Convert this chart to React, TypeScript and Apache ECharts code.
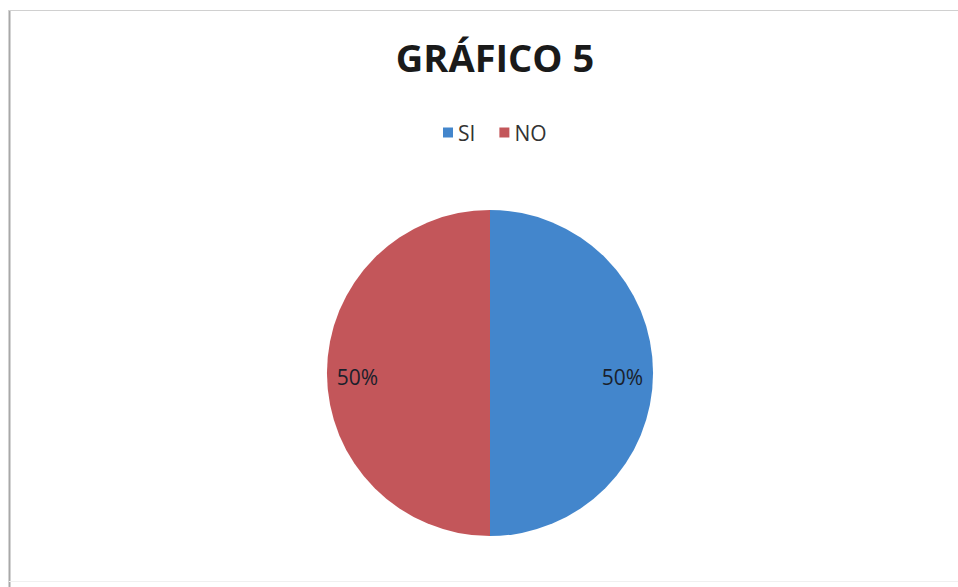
import React, { useEffect, useRef } from "react";
import * as echarts from "echarts";

const categories = ["SI", "NO"];
const values = [50, 50];
const colors = ["#4386cc", "#c3565a"];
const labelOffsets: [number, number][] = [[48, 4], [-48, 4]];

export default function App() {
  const ref = useRef<HTMLDivElement>(null);
  useEffect(() => {
    if (!ref.current) return;
    const chart = echarts.init(ref.current, undefined, { renderer: "svg" });
    const total = values.reduce((a, b) => a + b, 0);
    chart.setOption({
      animation: false,
      backgroundColor: "#ffffff",
      title: {
        text: "GRÁFICO 5",
        left: 490,
        textAlign: "center",
        top: 33,
        textStyle: {
          fontFamily: "Open Sans",
          fontWeight: "bold",
          fontSize: 38,
          color: "#1a1a1a",
        },
      },
      legend: {
        data: categories,
        top: 117,
        left: 438,
        icon: "rect",
        itemWidth: 10,
        itemHeight: 10,
        itemGap: 24,
        textStyle: { fontFamily: "Open Sans", fontSize: 21, color: "#333333" },
      },
      graphic: [
        { type: "line", shape: { x1: 9.5, y1: 10, x2: 9.5, y2: 587 }, style: { stroke: "#a8a8a8", lineWidth: 2 } },
        { type: "line", shape: { x1: 9, y1: 10.5, x2: 958, y2: 10.5 }, style: { stroke: "#d0d0d0", lineWidth: 1 } },
        { type: "line", shape: { x1: 9, y1: 581.5, x2: 958, y2: 581.5 }, style: { stroke: "#f0f0f0", lineWidth: 1 } },
      ],
      series: [
        {
          type: "pie",
          center: [490, 373],
          radius: 163,
          startAngle: 90,
          clockwise: true,
          silent: true,
          itemStyle: { borderWidth: 0 },
          label: {
            show: true,
            position: "inside",
            fontFamily: "Open Sans",
            fontSize: 21,
            color: "#1a1f2b",
            formatter: (p: any) => Math.round((p.value / total) * 100) + "%",
          },
          labelLine: { show: false },
          data: categories.map((name, i) => ({
            name,
            value: values[i],
            itemStyle: { color: colors[i] },
            label: { offset: labelOffsets[i] },
          })),
        },
      ],
    });
    return () => chart.dispose();
  }, []);
  return (
    <div
      ref={ref}
      style={{ position: "fixed", left: 0, top: 0, width: 958, height: 587 }}
    />
  );
}
